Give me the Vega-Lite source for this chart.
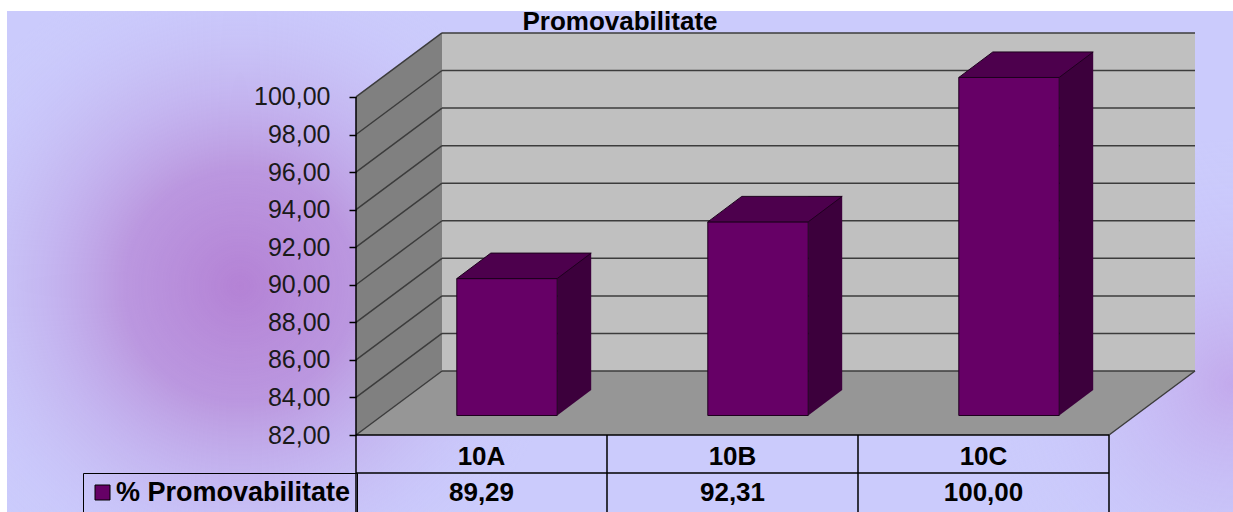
{
  "$schema": "https://vega.github.io/schema/vega-lite/v6.json",
  "width": 1226,
  "height": 501,
  "padding": {"left": 7, "top": 11, "right": 0, "bottom": 0},
  "autosize": {"type": "none"},
  "background": "#ffffff",
  "view": {"fill": "#cbcbfc", "stroke": null},
  "title": {"text": "Promovabilitate", "frame": "group", "anchor": "middle", "offset": -19, "dy": 26, "baseline": "alphabetic", "font": "Liberation Sans", "fontSize": 26, "fontWeight": "bold", "color": "#000000"},
  "config": {
    "locale": {"number": {"decimal": ",", "thousands": ".", "grouping": [3], "currency": ["", ""]}},
    "axisX": {"disable": true}
  },
  "datasets": {
    "classes": [
      {"class": "10A", "value": 89.29},
      {"class": "10B", "value": 92.31},
      {"class": "10C", "value": 100.0}
    ],
    "ticks": [{"v": 82}, {"v": 84}, {"v": 86}, {"v": 88}, {"v": 90}, {"v": 92}, {"v": 94}, {"v": 96}, {"v": 98}, {"v": 100}],
    "one": [{"k": 1}]
  },
  "data": {"name": "classes"},
  "layer": [
    {
      "data": {"name": "one"},
      "mark": {"type": "rect", "fill": {"gradient": "radial", "x1": 0.19, "y1": 0.52, "r1": 0, "x2": 0.19, "y2": 0.52, "r2": 0.27, "stops": [{"offset": 0, "color": "rgba(180,130,213,1)"}, {"offset": 0.35, "color": "rgba(184,142,218,0.85)"}, {"offset": 1, "color": "rgba(203,203,252,0)"}]}},
      "encoding": {}
    },
    {
      "data": {"name": "one"},
      "mark": {"type": "rect", "fill": {"gradient": "radial", "x1": 1.0, "y1": 0.6, "r1": 0, "x2": 1.0, "y2": 0.6, "r2": 0.2, "stops": [{"offset": 0, "color": "rgba(194,166,234,0.9)"}, {"offset": 1, "color": "rgba(203,203,252,0)"}]}},
      "encoding": {}
    },
    {
      "data": {"name": "one"},
      "mark": {"type": "rect", "fill": "#808080", "x2Offset": 86, "y2Offset": -64},
      "encoding": {
        "x": {"datum": "10A", "type": "nominal", "bandPosition": 0, "scale": {"type": "band", "paddingInner": 0, "paddingOuter": 0.94223, "align": 0.73784}},
        "x2": {"datum": "10A", "bandPosition": 0},
        "y": {"datum": 100, "type": "quantitative", "scale": {"domain": [77.9, 104.577], "nice": false, "zero": false}},
        "y2": {"datum": 82}
      }
    },
    {
      "data": {"name": "one"},
      "mark": {"type": "point", "shape": "M0,0 L86,-64 L86,0 Z", "size": 4, "filled": true, "fill": "#808080", "strokeWidth": 0, "opacity": 1},
      "encoding": {
        "x": {"datum": "10A", "type": "nominal", "bandPosition": 0},
        "y": {"datum": 100, "type": "quantitative", "scale": {"domain": [77.9, 104.577], "nice": false, "zero": false}}
      }
    },
    {
      "data": {"name": "one"},
      "mark": {"type": "point", "shape": "M0,0 L0,-64 L86,-64 Z", "size": 4, "filled": true, "fill": "#808080", "strokeWidth": 0, "opacity": 1},
      "encoding": {
        "x": {"datum": "10A", "type": "nominal", "bandPosition": 0},
        "y": {"datum": 82, "type": "quantitative", "scale": {"domain": [77.9, 104.577], "nice": false, "zero": false}}
      }
    },
    {
      "data": {"name": "one"},
      "mark": {"type": "rect", "fill": "#c0c0c0", "xOffset": 86, "x2Offset": 86, "yOffset": -64, "y2Offset": -64},
      "encoding": {
        "x": {"datum": "10A", "type": "nominal", "bandPosition": 0},
        "x2": {"datum": "10C", "bandPosition": 1},
        "y": {"datum": 100, "type": "quantitative", "scale": {"domain": [77.9, 104.577], "nice": false, "zero": false}},
        "y2": {"datum": 82}
      }
    },
    {
      "data": {"name": "one"},
      "mark": {"type": "rect", "fill": "#969696", "xOffset": 86, "yOffset": -64},
      "encoding": {
        "x": {"datum": "10A", "type": "nominal", "bandPosition": 0},
        "x2": {"datum": "10C", "bandPosition": 1},
        "y": {"datum": 82, "type": "quantitative", "scale": {"domain": [77.9, 104.577], "nice": false, "zero": false}},
        "y2": {"datum": 82}
      }
    },
    {
      "data": {"name": "one"},
      "mark": {"type": "point", "shape": "M0,0 L86,-64 L86,0 Z", "size": 4, "filled": true, "fill": "#969696", "strokeWidth": 0, "opacity": 1},
      "encoding": {
        "x": {"datum": "10A", "type": "nominal", "bandPosition": 0},
        "y": {"datum": 82, "type": "quantitative", "scale": {"domain": [77.9, 104.577], "nice": false, "zero": false}}
      }
    },
    {
      "data": {"name": "one"},
      "mark": {"type": "point", "shape": "M0,0 L0,-64 L86,-64 Z", "size": 4, "filled": true, "fill": "#969696", "strokeWidth": 0, "opacity": 1},
      "encoding": {
        "x": {"datum": "10C", "type": "nominal", "bandPosition": 1},
        "y": {"datum": 82, "type": "quantitative", "scale": {"domain": [77.9, 104.577], "nice": false, "zero": false}}
      }
    },
    {
      "data": {"name": "ticks"},
      "mark": {"type": "rule", "stroke": "#3c3c3c", "strokeWidth": 1.5, "xOffset": 86, "x2Offset": 86, "yOffset": -64},
      "encoding": {
        "x": {"datum": "10A", "type": "nominal", "bandPosition": 0},
        "x2": {"datum": "10C", "bandPosition": 1},
        "y": {"field": "v", "type": "quantitative", "scale": {"domain": [77.9, 104.577], "nice": false, "zero": false}}
      }
    },
    {
      "data": {"name": "ticks"},
      "mark": {"type": "rule", "stroke": "#3c3c3c", "strokeWidth": 1.5, "x2Offset": 86, "y2Offset": -64},
      "encoding": {
        "x": {"datum": "10A", "type": "nominal", "bandPosition": 0},
        "x2": {"datum": "10A", "bandPosition": 0},
        "y": {"field": "v", "type": "quantitative", "scale": {"domain": [77.9, 104.577], "nice": false, "zero": false}},
        "y2": {"field": "v"}
      }
    },
    {
      "data": {"name": "one"},
      "mark": {"type": "rule", "stroke": "#3c3c3c", "strokeWidth": 1.5, "x2Offset": 86, "y2Offset": -64},
      "encoding": {
        "x": {"datum": "10C", "type": "nominal", "bandPosition": 1},
        "x2": {"datum": "10C", "bandPosition": 1},
        "y": {"datum": 82, "type": "quantitative", "scale": {"domain": [77.9, 104.577], "nice": false, "zero": false}},
        "y2": {"datum": 82}
      }
    },
    {
      "mark": {"type": "rule", "stroke": "#000000", "strokeWidth": 1.5},
      "encoding": {
        "x": {"field": "class", "type": "nominal", "bandPosition": 0},
        "y": {"datum": 82, "type": "quantitative", "scale": {"domain": [77.9, 104.577], "nice": false, "zero": false}},
        "y2": {"datum": 75}
      }
    },
    {
      "data": {"name": "one"},
      "mark": {"type": "rule", "stroke": "#000000", "strokeWidth": 1.5},
      "encoding": {
        "x": {"datum": "10C", "type": "nominal", "bandPosition": 1},
        "y": {"datum": 82, "type": "quantitative", "scale": {"domain": [77.9, 104.577], "nice": false, "zero": false}},
        "y2": {"datum": 75}
      }
    },
    {
      "data": {"name": "one"},
      "mark": {"type": "rule", "stroke": "#000000", "strokeWidth": 1.5},
      "encoding": {
        "x": {"datum": "10A", "type": "nominal", "bandPosition": 0},
        "y": {"datum": 100, "type": "quantitative", "scale": {"domain": [77.9, 104.577], "nice": false, "zero": false}},
        "y2": {"datum": 82}
      }
    },
    {
      "data": {"name": "one"},
      "mark": {"type": "rule", "stroke": "#000000", "strokeWidth": 1.5},
      "encoding": {
        "x": {"datum": "10A", "type": "nominal", "bandPosition": 0},
        "x2": {"datum": "10C", "bandPosition": 1},
        "y": {"datum": 82, "type": "quantitative", "scale": {"domain": [77.9, 104.577], "nice": false, "zero": false}}
      }
    },
    {
      "data": {"name": "one"},
      "mark": {"type": "rule", "stroke": "#000000", "strokeWidth": 1.5, "yOffset": 38},
      "encoding": {
        "x": {"datum": "10A", "type": "nominal", "bandPosition": 0},
        "x2": {"datum": "10C", "bandPosition": 1},
        "y": {"datum": 82, "type": "quantitative", "scale": {"domain": [77.9, 104.577], "nice": false, "zero": false}}
      }
    },
    {
      "mark": {"type": "bar", "fill": "#3c003c", "width": 34, "xOffset": 92.7, "yOffset": -45, "y2Offset": -45},
      "encoding": {
        "x": {"field": "class", "type": "nominal"},
        "y": {"field": "value", "type": "quantitative", "scale": {"domain": [77.9, 104.577], "nice": false, "zero": false}},
        "y2": {"datum": 82}
      }
    },
    {
      "mark": {"type": "point", "shape": "M0,0 L0,-25.5 L34,-25.5 Z", "size": 4, "filled": true, "fill": "#3c003c", "strokeWidth": 0, "opacity": 1, "xOffset": 75.7, "yOffset": -19.5},
      "encoding": {
        "x": {"field": "class", "type": "nominal"},
        "y": {"datum": 82, "type": "quantitative", "scale": {"domain": [77.9, 104.577], "nice": false, "zero": false}}
      }
    },
    {
      "mark": {"type": "bar", "stroke": "#1e001e", "strokeWidth": 1, "width": {"band": 0.4}, "xOffset": 25.5, "yOffset": -19.5, "y2Offset": -19.5},
      "encoding": {
        "x": {"field": "class", "type": "nominal"},
        "y": {
          "field": "value", "type": "quantitative",
          "scale": {"domain": [77.9, 104.577], "nice": false, "zero": false},
          "axis": {"title": null, "offset": -349, "zindex": 2, "values": [82, 84, 86, 88, 90, 92, 94, 96, 98, 100], "format": ".2f", "domain": false, "grid": false, "ticks": true, "tickSize": 7, "tickColor": "#000000", "tickWidth": 1.5, "labelPadding": 19, "labelFont": "Liberation Sans", "labelFontSize": 25, "labelColor": "#1a1a1a"}
        },
        "y2": {"datum": 82},
        "color": {
          "datum": "% Promovabilitate", "type": "nominal",
          "scale": {"range": ["#660066"]},
          "legend": {"orient": "none", "legendX": 76, "legendY": 462, "zindex": 2, "title": null, "symbolType": "square", "symbolSize": 225, "symbolStrokeColor": "#000000", "symbolStrokeWidth": 1, "symbolFillColor": "#660066", "labelFont": "Liberation Sans", "labelFontSize": 27, "labelFontWeight": "bold", "labelColor": "#000000", "labelLimit": 500, "labelOffset": 0, "padding": 6, "strokeColor": "#000000"}
        }
      }
    },
    {
      "mark": {"type": "point", "shape": "M-50.2,0 L50.2,0 L84.2,-25.5 L-16.2,-25.5 Z", "size": 4, "filled": true, "fill": "#4d004d", "stroke": "#1e001e", "strokeWidth": 1, "opacity": 1, "xOffset": 25.5, "yOffset": -19.5},
      "encoding": {
        "x": {"field": "class", "type": "nominal"},
        "y": {"field": "value", "type": "quantitative", "scale": {"domain": [77.9, 104.577], "nice": false, "zero": false}}
      }
    },
    {
      "mark": {"type": "text", "font": "Liberation Sans", "fontSize": 26, "fontWeight": "bold", "baseline": "alphabetic", "align": "center", "yOffset": 30, "color": "#000000"},
      "encoding": {
        "x": {"field": "class", "type": "nominal"},
        "y": {"datum": 82, "type": "quantitative", "scale": {"domain": [77.9, 104.577], "nice": false, "zero": false}},
        "text": {"field": "class", "type": "nominal"}
      }
    },
    {
      "mark": {"type": "text", "font": "Liberation Sans", "fontSize": 26, "fontWeight": "bold", "baseline": "alphabetic", "align": "center", "yOffset": 66, "color": "#000000"},
      "encoding": {
        "x": {"field": "class", "type": "nominal"},
        "y": {"datum": 82, "type": "quantitative", "scale": {"domain": [77.9, 104.577], "nice": false, "zero": false}},
        "text": {"field": "value", "type": "quantitative", "format": ".2f"}
      }
    }
  ]
}
